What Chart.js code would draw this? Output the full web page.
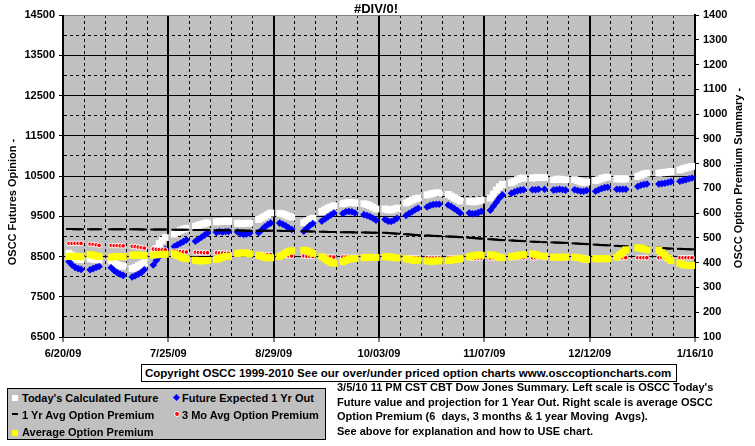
<!DOCTYPE html>
<html>
<head>
<meta charset="utf-8">
<script src="https://cdn.jsdelivr.net/npm/chart.js@4.4.0/dist/chart.umd.min.js"></script>
<style>
  body { margin: 0; background: #fff; }
  #wrap { position: relative; width: 755px; height: 446px; font-family: 'Liberation Sans', Arial, sans-serif; font-weight: bold; color: #000; }
  #chart { position: absolute; left: 0; top: 0; }
  #copy { position: absolute; left: 141px; top: 364px; width: 531px; height: 16px; border: 1px solid #000; background: #fff; font-size: 11.5px; line-height: 16px; padding-left: 3px; box-sizing: content-box; white-space: nowrap; }
  #legend { position: absolute; left: 7px; top: 388px; width: 317px; height: 50px; border: 1px solid #000; background: #c0c0c0; }
  #legend span { position: absolute; font-size: 11px; line-height: 12px; white-space: nowrap; }
  #legend i { position: absolute; display: block; }
  #note { position: absolute; left: 337px; top: 380px; font-size: 11px; line-height: 14.5px; white-space: nowrap; }
</style>
</head>
<body>
<div id="wrap">
  <canvas id="chart" width="755" height="446"></canvas>
  <div id="copy">Copyright OSCC 1999-2010 See our over/under priced option charts www.osccoptioncharts.com</div>
  <div id="legend">
    <i style="left:4px;top:6px;width:6px;height:6px;background:#fff"></i>
    <span style="left:14px;top:3px">Today's Calculated Future</span>
    <i style="left:166px;top:6px;width:5px;height:5px;background:#00f;transform:rotate(45deg)"></i>
    <span style="left:174px;top:3px">Future Expected 1 Yr Out</span>
    <i style="left:4px;top:24px;width:6px;height:2px;background:#000"></i>
    <span style="left:14px;top:20px">1 Yr Avg Option Premium</span>
    <i style="left:166px;top:22px;width:4px;height:4px;background:#f00;border:1px solid #fff;border-radius:50%"></i>
    <span style="left:174px;top:20px">3 Mo Avg Option Premium</span>
    <i style="left:4px;top:41px;width:6px;height:6px;background:#ff0"></i>
    <span style="left:14px;top:37px">Average Option Premium</span>
  </div>
  <div id="note">3/5/10 11 PM CST CBT Dow Jones Summary. Left scale is OSCC Today's<br>Future value and projection for 1 Year Out. Right scale is average OSCC<br>Option Premium (6&nbsp; days, 3 months &amp; 1 year Moving&nbsp; Avgs).<br>See above for explanation and how to USE chart.</div>
</div>
<script>
const chartTitle = '#DIV/0!';
const leftTitle = 'OSCC Futures Opinion -';
const rightTitle = 'OSCC Option Premium Summary -';
const xTickLabels = ['6/20/09', '7/25/09', '8/29/09', '10/03/09', '11/07/09', '12/12/09', '1/16/10'];

// trading days, one week per line
const dates = [
  '6/22/09','6/23/09','6/24/09','6/25/09','6/26/09',
  '6/29/09','6/30/09','7/1/09','7/2/09',
  '7/6/09','7/7/09','7/8/09','7/9/09','7/10/09',
  '7/13/09','7/14/09','7/15/09','7/16/09','7/17/09',
  '7/20/09','7/21/09','7/22/09','7/23/09','7/24/09',
  '7/27/09','7/28/09','7/29/09','7/30/09','7/31/09',
  '8/3/09','8/4/09','8/5/09','8/6/09','8/7/09',
  '8/10/09','8/11/09','8/12/09','8/13/09','8/14/09',
  '8/17/09','8/18/09','8/19/09','8/20/09','8/21/09',
  '8/24/09','8/25/09','8/26/09','8/27/09','8/28/09',
  '8/31/09','9/1/09','9/2/09','9/3/09','9/4/09',
  '9/8/09','9/9/09','9/10/09','9/11/09',
  '9/14/09','9/15/09','9/16/09','9/17/09','9/18/09',
  '9/21/09','9/22/09','9/23/09','9/24/09','9/25/09',
  '9/28/09','9/29/09','9/30/09','10/1/09','10/2/09',
  '10/5/09','10/6/09','10/7/09','10/8/09','10/9/09',
  '10/12/09','10/13/09','10/14/09','10/15/09','10/16/09',
  '10/19/09','10/20/09','10/21/09','10/22/09','10/23/09',
  '10/26/09','10/27/09','10/28/09','10/29/09','10/30/09',
  '11/2/09','11/3/09','11/4/09','11/5/09','11/6/09',
  '11/9/09','11/10/09','11/11/09','11/12/09','11/13/09',
  '11/16/09','11/17/09','11/18/09','11/19/09','11/20/09',
  '11/23/09','11/24/09','11/25/09','11/27/09',
  '11/30/09','12/1/09','12/2/09','12/3/09','12/4/09',
  '12/7/09','12/8/09','12/9/09','12/10/09','12/11/09',
  '12/14/09','12/15/09','12/16/09','12/17/09','12/18/09',
  '12/21/09','12/22/09','12/23/09','12/24/09',
  '12/28/09','12/29/09','12/30/09','12/31/09',
  '1/4/10','1/5/10','1/6/10','1/7/10','1/8/10',
  '1/11/10','1/12/10','1/13/10','1/14/10','1/15/10'
];

// left scale
const todayCalc = [
  8580, 8530, 8470, 8430, 8420,
  8450, 8430, 8420, 8420,
  8400, 8350, 8300, 8270, 8260,
  8200, 8230, 8270, 8310, 8340,
  8550, 8700, 8820, 8900, 8970,
  9060, 9110, 9150, 9180, 9200,
  9250, 9280, 9300, 9320, 9340,
  9360, 9370, 9370, 9380, 9370,
  9330, 9320, 9320, 9330, 9330,
  9420, 9460, 9500, 9540, 9580,
  9570, 9560, 9530, 9500, 9480,
  9340, 9380, 9420, 9450,
  9620, 9660, 9700, 9730, 9760,
  9810, 9830, 9840, 9840, 9830,
  9810, 9790, 9760, 9720, 9680,
  9680, 9660, 9660, 9680, 9700,
  9830, 9860, 9900, 9930, 9950,
  10030, 10050, 10070, 10080, 10080,
  10040, 10000, 9960, 9920, 9880,
  9870, 9860, 9860, 9880, 9900,
  9950, 10050, 10150, 10230, 10290,
  10330, 10370, 10410, 10440, 10450,
  10450, 10460, 10460, 10460,
  10410, 10420, 10420, 10410, 10410,
  10410, 10390, 10360, 10340, 10350,
  10390, 10410, 10440, 10460, 10470,
  10430, 10430, 10420, 10430,
  10490, 10520, 10550, 10570,
  10570, 10580, 10590, 10600, 10610,
  10650, 10680, 10700, 10720, 10740
];
const futureExpected = [
  8370, 8290, 8230, 8200, 8180,
  8170, 8200, 8230, 8250,
  8220, 8150, 8100, 8060, 8030,
  7990, 8020, 8060, 8100, 8170,
  8290, 8400, 8500, 8600, 8680,
  8750, 8790, 8830, 8870, 8910,
  8880, 8930, 8980, 9030, 9080,
  9100, 9120, 9110, 9120, 9120,
  9110, 9070, 9050, 9060, 9080,
  9090, 9160, 9230, 9290, 9330,
  9330, 9300, 9260, 9210, 9170,
  9130, 9200, 9270, 9320,
  9380, 9430, 9480, 9530, 9580,
  9570, 9610, 9620, 9610, 9580,
  9540, 9520, 9490, 9450, 9400,
  9420, 9380, 9370, 9400, 9450,
  9520, 9570, 9610, 9660, 9700,
  9730, 9770, 9790, 9800, 9800,
  9780, 9740, 9690, 9640, 9580,
  9580, 9560, 9570, 9590, 9620,
  9650, 9750, 9850, 9950, 10030,
  10070, 10100, 10130, 10150, 10160,
  10160, 10160, 10170, 10170,
  10150, 10160, 10170, 10160, 10150,
  10160, 10140, 10120, 10120, 10140,
  10120, 10160, 10190, 10210, 10220,
  10170, 10170, 10170, 10170,
  10240, 10270, 10290, 10300,
  10300, 10310, 10320, 10340, 10360,
  10370, 10390, 10410, 10430, 10450
];

// right scale
const oneYrAvg = [
  536, 536, 535, 535, 535,
  535, 535, 535, 535,
  535, 535, 535, 535, 535,
  535, 535, 535, 534, 534,
  534, 534, 534, 534, 534,
  533, 533, 533, 533, 533,
  532, 532, 532, 532, 532,
  531, 531, 531, 531, 531,
  530, 530, 530, 529, 529,
  529, 529, 529, 529, 529,
  529, 528, 528, 528, 528,
  527, 527, 526, 526,
  525, 525, 524, 524, 524,
  523, 523, 523, 523, 522,
  522, 522, 521, 521, 521,
  521, 520, 519, 518, 517,
  515, 514, 513, 512, 511,
  510, 509, 508, 508, 507,
  506, 505, 505, 504, 503,
  501, 500, 499, 498, 497,
  495, 494, 493, 492, 491,
  490, 489, 488, 488, 487,
  485, 484, 484, 483,
  482, 481, 481, 480, 480,
  478, 477, 476, 476, 475,
  473, 472, 471, 471, 470,
  468, 467, 467, 466,
  465, 464, 464, 463,
  460, 459, 458, 457, 457,
  456, 455, 455, 454, 454
];
const threeMoAvg = [
  478, 478, 478, 478, 478,
  475, 474, 472, 470,
  470, 469, 469, 468, 468,
  466, 465, 463, 461, 459,
  455, 454, 453, 452, 452,
  447, 446, 445, 444, 443,
  442, 441, 441, 440, 440,
  440, 439, 439, 438, 438,
  437, 436, 436, 435, 435,
  434, 434, 433, 433, 432,
  431, 430, 429, 428, 427,
  427, 426, 426, 425,
  425, 424, 424, 424, 423,
  423, 423, 422, 422, 422,
  422, 422, 421, 421, 421,
  422, 421, 421, 421, 420,
  420, 420, 420, 420, 420,
  420, 419, 419, 419, 419,
  419, 419, 419, 419, 419,
  419, 419, 419, 419, 419,
  419, 419, 420, 420, 420,
  420, 420, 420, 420, 420,
  420, 420, 420, 420,
  420, 420, 420, 420, 420,
  420, 420, 420, 420, 420,
  420, 420, 420, 420, 420,
  420, 420, 420, 420,
  420, 420, 420, 420,
  420, 420, 420, 420, 420,
  420, 420, 420, 420, 420
];
const avgPremium = [
  425, 426, 426, 425, 424,
  433, 430, 427, 425,
  422, 424, 425, 425, 424,
  430, 431, 431, 430, 429,
  431, 432, 433, 434, 434,
  436, 430, 424, 419, 416,
  410, 408, 407, 408, 409,
  413, 418, 422, 425, 426,
  437, 439, 440, 439, 436,
  430, 425, 422, 420, 420,
  425, 432, 440, 446, 448,
  450, 448, 443, 437,
  424, 416, 408, 401, 398,
  404, 410, 414, 416, 417,
  420, 422, 422, 421, 421,
  424, 424, 423, 421, 419,
  416, 413, 411, 410, 410,
  407, 406, 406, 407, 408,
  408, 410, 412, 414, 416,
  424, 428, 430, 431, 430,
  432, 430, 426, 422, 420,
  424, 427, 429, 431, 432,
  436, 433, 429, 426,
  422, 422, 422, 422, 423,
  422, 421, 418, 415, 413,
  416, 416, 416, 416, 416,
  422, 432, 442, 452,
  460, 459, 456, 452,
  450, 440, 430, 418, 408,
  398, 392, 390, 389, 389
];

// days since 6/20/09, which is the left end of the date axis
function dayOf(s) {
  const [m, d, y] = s.split('/').map(Number);
  return (Date.UTC(2000 + y, m - 1, d) - Date.UTC(2009, 5, 20)) / 86400000;
}
const days = dates.map(dayOf);
const pts = arr => arr.map((v, i) => ({ x: days[i], y: v }));

const font = { family: 'Liberation Sans', size: 11, weight: 'bold' };
const clear = 'rgba(0,0,0,0)';

const plotBg = {
  id: 'plotBg',
  beforeDraw(chart) {
    const a = chart.chartArea, ctx = chart.ctx;
    ctx.save();
    ctx.fillStyle = '#c0c0c0';
    ctx.fillRect(a.left, a.top, a.right - a.left, a.bottom - a.top);
    ctx.restore();
  },
  afterDraw(chart) {
    const ctx = chart.ctx;
    ctx.save();
    ctx.fillStyle = '#000';
    ctx.textAlign = 'center';
    ctx.textBaseline = 'middle';
    ctx.font = 'bold 13px "Liberation Sans"';
    ctx.fillText(chartTitle, 376, 9);
    ctx.font = 'bold 11px "Liberation Sans"';
    ctx.translate(13, 202);
    ctx.rotate(-Math.PI / 2);
    ctx.fillText(leftTitle, 0, 0);
    ctx.restore();
    ctx.save();
    ctx.fillStyle = '#000';
    ctx.textAlign = 'center';
    ctx.textBaseline = 'middle';
    ctx.font = 'bold 11px "Liberation Sans"';
    ctx.translate(739, 178);
    ctx.rotate(-Math.PI / 2);
    ctx.fillText(rightTitle, 0, 0);
    ctx.restore();
  }
};

new Chart(document.getElementById('chart'), {
  type: 'scatter',
  data: {
    datasets: [
      { label: "Today's Calculated Future", data: pts(todayCalc), yAxisID: 'y', order: 5,
        pointStyle: 'rect', pointRadius: 4.9, pointBackgroundColor: '#fff', pointBorderWidth: 0 },
      { label: 'Future Expected 1 Yr Out', data: pts(futureExpected), yAxisID: 'y', order: 4,
        pointStyle: 'rectRot', pointRadius: 3.8, pointBackgroundColor: '#0000ff', pointBorderWidth: 0 },
      { label: '1 Yr Avg Option Premium', data: pts(oneYrAvg), yAxisID: 'y2', order: 3,
        pointStyle: 'line', pointRadius: 3, pointBorderColor: '#000', pointBorderWidth: 2 },
      { label: '3 Mo Avg Option Premium', data: pts(threeMoAvg), yAxisID: 'y2', order: 2,
        pointStyle: 'circle', pointRadius: 2.3, pointBackgroundColor: '#ff0000', pointBorderColor: '#fff', pointBorderWidth: 1 },
      { label: 'Average Option Premium', data: pts(avgPremium), yAxisID: 'y2', order: 1,
        pointStyle: 'rect', pointRadius: 4.9, pointBackgroundColor: '#ffff00', pointBorderWidth: 0 }
    ]
  },
  options: {
    responsive: false,
    animation: false,
    events: [],
    layout: { padding: { top: 15, left: 0, right: 0, bottom: 0 } },
    plugins: { legend: { display: false }, tooltip: { enabled: false } },
    scales: {
      x: {
        type: 'linear', min: 0, max: 210,
        afterBuildTicks: s => { s.ticks = []; for (let v = 0; v <= 210; v += 7) s.ticks.push({ value: v }); },
        afterFit: s => { s.height = 109; },
        ticks: { autoSkip: false, maxRotation: 0, color: '#000', font, padding: 5,
          callback: v => v % 35 === 0 ? xTickLabels[v / 35] : '' },
        grid: {
          color: '#000',
          lineWidth: c => (c.tick && c.tick.value % 35 === 0) ? 2 : 1,
          tickColor: c => (c.tick && c.tick.value % 35 === 0) ? '#000' : clear,
          tickLength: 5, tickWidth: 1
        },
        border: { color: '#000', width: 1, dash: c => (c.tick && c.tick.value % 35 !== 0) ? [3, 3] : [] }
      },
      y: {
        position: 'left', min: 6500, max: 14500,
        afterBuildTicks: s => { s.ticks = []; for (let v = 6500; v <= 14500; v += 500) s.ticks.push({ value: v }); },
        afterFit: s => { s.width = 63; },
        ticks: { autoSkip: false, color: '#000', font, padding: 4,
          callback: v => (v - 6500) % 1000 === 0 ? String(v) : '' },
        grid: {
          color: c => (c.tick && c.tick.value === 14500) ? '#808080' : '#000',
          lineWidth: 1,
          tickColor: c => (c.tick && (c.tick.value - 6500) % 1000 === 0) ? '#000' : clear,
          tickLength: 4
        },
        border: { color: '#000', width: 1, dash: c => (c.tick && (c.tick.value - 6500) % 1000 !== 0) ? [3, 3] : [] }
      },
      y2: {
        position: 'right', min: 100, max: 1400,
        afterBuildTicks: s => { s.ticks = []; for (let v = 100; v <= 1400; v += 100) s.ticks.push({ value: v }); },
        afterFit: s => { s.width = 60; },
        ticks: { autoSkip: false, color: '#000', font, padding: 4, callback: v => String(v) },
        grid: { drawOnChartArea: false, tickColor: '#000', tickLength: 4 },
        border: { color: '#000', width: 2 }
      }
    }
  },
  plugins: [plotBg]
});
</script>
</body>
</html>
